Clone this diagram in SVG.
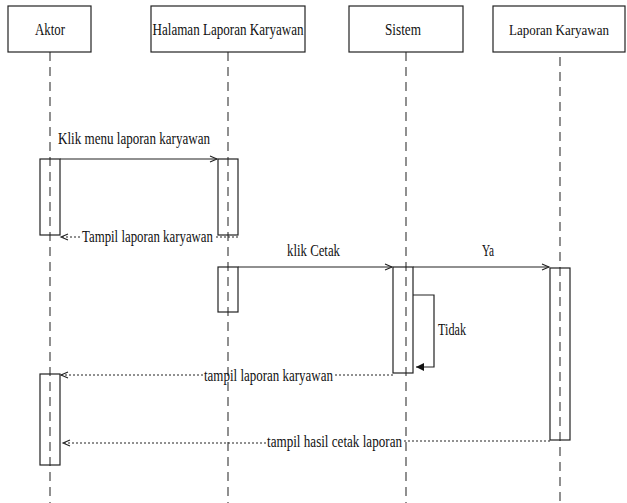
<svg xmlns="http://www.w3.org/2000/svg" width="627" height="503" viewBox="0 0 627 503">
<defs>
<style>
text{font-family:"Liberation Serif","Tinos","DejaVu Serif",serif;font-size:16.5px;fill:#111}
.box{fill:#fff;stroke:#222;stroke-width:1.2}
.life{stroke:#555;stroke-width:1.3;stroke-dasharray:9 6;fill:none}
.act{fill:none;stroke:#222;stroke-width:1.2}
.msg{stroke:#222;stroke-width:1.2;fill:none}
.ret{stroke:#222;stroke-width:1;stroke-dasharray:2 2;fill:none}
</style>
<marker id="open" markerWidth="10" markerHeight="10" refX="8" refY="4" orient="auto" markerUnits="userSpaceOnUse">
<path d="M1,1 L8,4 L1,7" fill="none" stroke="#222" stroke-width="1.1"/>
</marker>
<marker id="fill" markerWidth="10" markerHeight="10" refX="8" refY="4" orient="auto" markerUnits="userSpaceOnUse">
<path d="M0,0 L8,4 L0,8 Z" fill="#111"/>
</marker>
</defs>
<rect width="627" height="503" fill="#fff"/>
<g id="lifelines">
<line class="life" x1="50" y1="52" x2="50" y2="503"/>
<line class="life" x1="228" y1="52" x2="228" y2="503"/>
<line class="life" x1="406" y1="52" x2="406" y2="503"/>
<line class="life" x1="560" y1="57" x2="560" y2="503"/>
</g>
<g id="aktor"><rect class="box" x="8" y="6" width="83" height="46"/><text x="50" y="35" text-anchor="middle" textLength="30" lengthAdjust="spacingAndGlyphs">Aktor</text></g>
<g id="halaman"><rect class="box" x="151" y="6" width="154" height="46"/><text x="228" y="35" text-anchor="middle" textLength="151" lengthAdjust="spacingAndGlyphs">Halaman Laporan Karyawan</text></g>
<g id="sistem"><rect class="box" x="349" y="6" width="114" height="46"/><text x="403" y="35" text-anchor="middle" textLength="36" lengthAdjust="spacingAndGlyphs">Sistem</text></g>
<g id="laporan"><rect class="box" x="493" y="6" width="132" height="46"/><text x="559" y="35" text-anchor="middle" style="font-size:15px" textLength="100" lengthAdjust="spacingAndGlyphs">Laporan Karyawan</text></g>
<g id="activations">
<rect class="act" x="40" y="159" width="20" height="76"/>
<rect class="act" x="218" y="159" width="20" height="76"/>
<rect class="act" x="218" y="267" width="20" height="45"/>
<rect class="act" x="393" y="267" width="20" height="106"/>
<rect class="act" x="550" y="268" width="20" height="172"/>
<rect class="act" x="40" y="374" width="20" height="91"/>
</g>
<g id="connectors">
<line class="msg" x1="60" y1="159" x2="217" y2="159" marker-end="url(#open)"/>
<text x="58" y="144" textLength="152" lengthAdjust="spacingAndGlyphs">Klik menu laporan karyawan</text>
<line class="ret" x1="238" y1="237" x2="214" y2="237"/>
<line class="ret" x1="80" y1="237" x2="61" y2="237" marker-end="url(#open)"/>
<text x="82" y="242" textLength="131" lengthAdjust="spacingAndGlyphs">Tampil laporan karyawan</text>
<line class="msg" x1="238" y1="267" x2="392" y2="267" marker-end="url(#open)"/>
<text x="287" y="256" textLength="53" lengthAdjust="spacingAndGlyphs">klik Cetak</text>
<line class="msg" x1="413" y1="267" x2="549" y2="267" marker-end="url(#open)"/>
<text x="482" y="256" textLength="12" lengthAdjust="spacingAndGlyphs">Ya</text>
<polyline class="msg" points="413,295 434,295 434,367 416,367" marker-end="url(#fill)"/>
<text x="438" y="335" textLength="28" lengthAdjust="spacingAndGlyphs">Tidak</text>
<line class="ret" x1="393" y1="375" x2="334" y2="375"/>
<line class="ret" x1="203" y1="375" x2="61" y2="375" marker-end="url(#open)"/>
<text x="204" y="381" textLength="129" lengthAdjust="spacingAndGlyphs">tampil laporan karyawan</text>
<line class="ret" x1="550" y1="441" x2="403" y2="441"/>
<line class="ret" x1="266" y1="443" x2="63" y2="443" marker-end="url(#open)"/>
<text x="267" y="447" textLength="135" lengthAdjust="spacingAndGlyphs">tampil hasil cetak laporan</text>
</g>
</svg>
